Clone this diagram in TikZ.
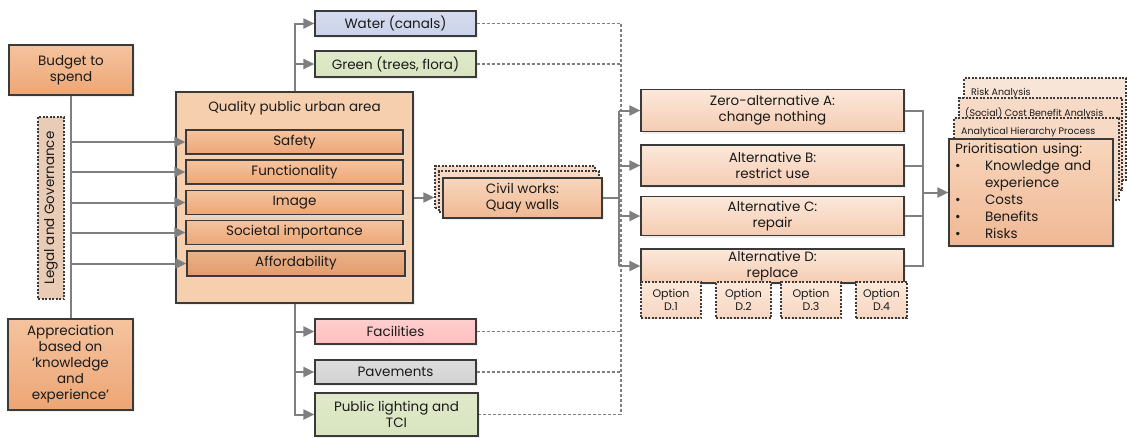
\documentclass[tikz,border=0pt]{standalone}
\usepackage{fontspec}
\setmainfont{Poppins}
\usetikzlibrary{arrows.meta,shadows}
\definecolor{linegray}{HTML}{7F7F7F}
\definecolor{boxline}{HTML}{3A3A3A}
\definecolor{txt}{HTML}{1A1A1A}
\definecolor{orTop}{RGB}{245,195,158}
\definecolor{orBot}{RGB}{237,166,117}
\definecolor{afTop}{RGB}{236,178,135}
\definecolor{afBot}{RGB}{226,155,108}
\definecolor{quality}{RGB}{246,207,174}
\definecolor{legal}{RGB}{232,204,182}
\definecolor{water}{RGB}{203,211,234}
\definecolor{green}{RGB}{216,228,190}
\definecolor{facil}{RGB}{255,190,190}
\definecolor{pave}{RGB}{210,210,210}
\definecolor{civTop}{RGB}{248,214,188}
\definecolor{civBot}{RGB}{240,184,148}
\definecolor{altTop}{RGB}{252,232,218}
\definecolor{altBot}{RGB}{245,204,178}
\definecolor{backbox}{RGB}{246,218,198}
\newcommand\mainsize{\fontsize{13.5}{16}\selectfont}
\newcommand\optsize{\fontsize{11}{13.5}\selectfont}
\newcommand\smallsize{\fontsize{9.5}{12}\selectfont}
\begin{document}
\begin{tikzpicture}[x=1pt,y=-1pt,
  box/.style={draw=boxline, line width=1.2pt, text=txt, align=center, inner sep=2pt,
    font=\mainsize, drop shadow={shadow xshift=2pt,shadow yshift=-2pt,fill=black!12}},
  orangebox/.style={box, top color=orTop, bottom color=orBot},
  dotbox/.style={draw=boxline, line width=1.3pt, dash pattern=on 2pt off 1.5pt, text=txt},
  conn/.style={draw=linegray, line width=2pt},
  arrow/.style={conn, -{Triangle[length=11pt,width=10pt]}},
  dotline/.style={draw=linegray, line width=1.3pt, dash pattern=on 3pt off 2pt},
  ]
\useasboundingbox (0,0) rectangle (1127,437);

% left column
\node [orangebox, minimum width=124pt, minimum height=50pt] (budget) at (71,70) {Budget to\\spend};
\node [orangebox, minimum width=125pt, minimum height=91pt] (apprec) at (70.5,364.5)
  {Appreciation\\based on\\‘knowledge\\and\\experience’};
\node [dotbox, fill=legal, rotate=90, minimum width=182pt, minimum height=26pt, font=\mainsize] (legal) at (51,208) {Legal and Governance};
\draw [conn] (budget.south) -- (budget.south |- apprec.north);

% quality of public urban area
\node [box, fill=quality, minimum width=237pt, minimum height=211pt] (quality) at (294.5,197.5) {};
\node [text=txt, font=\mainsize] (qtitle) at (294.5,108) {Quality public urban area};
\node [orangebox, minimum width=217pt, minimum height=24pt] (safety) at (294.5,142) {Safety};
\node [orangebox, minimum width=217pt, minimum height=24pt] (funct) at (294.5,172) {Functionality};
\node [orangebox, minimum width=217pt, minimum height=24pt] (image) at (294.5,202.5) {Image};
\node [orangebox, minimum width=217pt, minimum height=24pt] (societal) at (294.5,232.5) {Societal importance};
\node [box, top color=afTop, bottom color=afBot, minimum width=218pt, minimum height=25pt] (afford) at (296,263.5) {Affordability};
\foreach \n in {safety,funct,image,societal,afford}
  \draw [arrow] (budget.south |- \n.west) -- (\n.west);

% assets
\node [box, top color=water!80!white, bottom color=water, minimum width=161pt, minimum height=25pt] (water) at (395.5,23.5) {Water (canals)};
\node [box, top color=green!80!white, bottom color=green, minimum width=161pt, minimum height=26pt] (greenery) at (395.5,64) {Green (trees, flora)};
\node [box, top color=facil!75!white, bottom color=facil, minimum width=161pt, minimum height=25pt] (facil) at (395.5,331.5) {Facilities};
\node [box, top color=pave!75!white, bottom color=pave, minimum width=161pt, minimum height=24pt] (pave) at (395.5,372) {Pavements};
\node [box, top color=green!80!white, bottom color=green, minimum width=163pt, minimum height=43pt] (light) at (396.5,414.5) {Public lighting and\\TCI};
\draw [arrow] (quality.north) |- (water.west);
\draw [arrow] (quality.north) |- (greenery.west);
\draw [arrow] (quality.south) |- (facil.west);
\draw [arrow] (quality.south) |- (pave.west);
\draw [arrow] (quality.south) |- (light.west);

% civil works
\node [dotbox, fill=backbox, minimum width=160pt, minimum height=42pt] (civback2) at (515,187) {};
\node [dotbox, fill=backbox, minimum width=160pt, minimum height=41pt] (civback1) at (519,191.5) {};
\node [box, top color=civTop, bottom color=civBot, minimum width=159pt, minimum height=40pt] (civil) at (522.5,198) {Civil works:\\Quay walls};
\draw [arrow] (quality.east) -- (quality.east -| civback2.west);

% alternatives
\node [box, top color=altTop, bottom color=altBot, minimum width=263pt, minimum height=42pt] (altA) at (772.5,110.5) {Zero-alternative A:\\change nothing};
\node [box, top color=altTop, bottom color=altBot, minimum width=263pt, minimum height=41pt] (altB) at (772.5,165.5) {Alternative B:\\restrict use};
\node [box, top color=altTop, bottom color=altBot, minimum width=263pt, minimum height=39pt] (altC) at (772.5,216) {Alternative C:\\repair};
\node [box, top color=altTop, bottom color=altBot, minimum width=263pt, minimum height=34pt] (altD) at (772.5,266) {Alternative D:\\replace};
\node [dotbox, top color=altTop, bottom color=altBot!80!white, minimum width=60pt, minimum height=36pt, align=center, font=\optsize] (optD1) at (671,300) {Option\\D.1};
\node [dotbox, top color=altTop, bottom color=altBot!80!white, minimum width=55pt, minimum height=36pt, align=center, font=\optsize] (optD2) at (743.5,300) {Option\\D.2};
\node [dotbox, top color=altTop, bottom color=altBot!80!white, minimum width=60pt, minimum height=36pt, align=center, font=\optsize] (optD3) at (811,300) {Option\\D.3};
\node [dotbox, top color=altTop, bottom color=altBot!80!white, minimum width=51pt, minimum height=36pt, align=center, font=\optsize] (optD4) at (881.5,300) {Option\\D.4};

% buses
\coordinate (dbus) at (621,0);
\coordinate (lbus) at (619,0);
\coordinate (rbus) at (923,0);
\draw [dotline] (water.east) -| (dbus |- light.east) -- (light.east);
\foreach \n in {greenery,facil,pave}
  \draw [dotline] (\n.east) -- (dbus |- \n.east);
\draw [conn] (civil.east) -- (lbus |- civil.east);
\draw [conn] (lbus |- altA.west) -- (lbus |- altD.west);
\foreach \n in {altA,altB,altC,altD}
  \draw [arrow] (lbus |- \n.west) -- (\n.west);
\draw [conn] (altA.east) -| (rbus |- altD.east) -- (altD.east);
\draw [conn] (altB.east) -- (rbus |- altB.east);
\draw [conn] (altC.east) -- (rbus |- altC.east);

% prioritisation
\node [dotbox, fill=backbox!70!white, minimum width=162pt, minimum height=102pt] (risk) at (1045,129) {};
\node [dotbox, fill=backbox, minimum width=163pt, minimum height=92pt] (cba) at (1040.5,144) {};
\node [dotbox, fill=backbox, minimum width=165pt, minimum height=82pt] (ahp) at (1036.5,159) {};
\node [anchor=west, text=txt, font=\smallsize, inner sep=0pt] (risktext) at (971,93) {Risk Analysis};
\node [anchor=west, text=txt, font=\smallsize, inner sep=0pt] (cbatext) at (965,113) {(Social) Cost Benefit Analysis};
\node [anchor=west, text=txt, font=\smallsize, inner sep=0pt] (ahptext) at (961,132) {Analytical Hierarchy Process};
\node [box, top color=civTop, bottom color=civBot, text width=152pt, inner xsep=6pt, minimum height=107pt, align=left, font={\fontsize{13.5}{17}\selectfont}] (prio) at (1031,192.5)
  {\begin{tabular}{@{}p{30pt}@{}l@{}}
   \multicolumn{2}{@{}l@{}}{Prioritisation using:}\\
   \textbullet & Knowledge and\\
               & experience\\
   \textbullet & Costs\\
   \textbullet & Benefits\\
   \textbullet & Risks
   \end{tabular}};
\draw [arrow] (rbus |- prio.west) -- (prio.west);
\end{tikzpicture}
\end{document}
